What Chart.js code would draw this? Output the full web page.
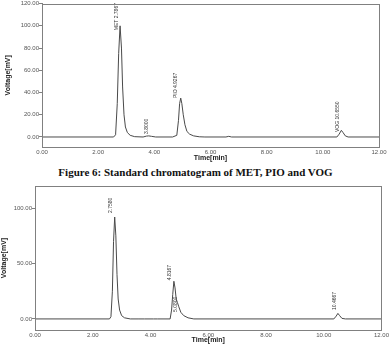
<!DOCTYPE html>
<html>
<head>
<meta charset="utf-8">
<script src="https://cdn.jsdelivr.net/npm/chart.js@4.4.1/dist/chart.umd.min.js"></script>
<style>
  html, body { margin: 0; padding: 0; background: #fff; }
  body { width: 391px; height: 347px; position: relative; overflow: hidden; }
  #c1 { position: absolute; left: 0; top: 0; }
  #c2 { position: absolute; left: 0; top: 178px; }
  #cap { position: absolute; left: 0; top: 165px; width: 391px; text-align: center;
         font: bold 11px "Liberation Serif", serif; color: #111; line-height: 14px; }
</style>
</head>
<body>
<canvas id="c1" width="391" height="165"></canvas>
<div id="cap">Figure 6: Standard chromatogram of MET, PIO and VOG</div>
<canvas id="c2" width="391" height="169"></canvas>
<script>
// ---- Data: chart 1 (standard chromatogram) ----
const time1 = [0, 2.55, 2.62, 2.68, 2.73, 2.78, 2.83, 2.87, 2.92, 2.97, 3.04, 3.14, 3.3, 3.6, 3.72, 3.8, 3.9, 4.05, 4.65, 4.8, 4.86, 4.9, 4.94, 4.98, 5.03, 5.09, 5.16, 5.26, 5.4, 5.6, 5.8, 6.55, 6.65, 6.75, 10.5, 10.58, 10.66, 10.72, 10.8, 10.9, 12];
const volt1 = [0, 0, 2, 30, 75, 100, 80, 45, 20, 9, 4, 1.5, 0.3, 0, 0.8, 1, 0.6, 0, 0, 1.5, 15, 30, 35, 30, 20, 11, 5, 2.5, 1, 0.2, 0, 0, 0.6, 0, 0, 2.5, 6, 4, 1, 0, 0];
const peakText1 = ["MET 2.7867", "3.8000", "PIO 4.9267", "VOG 10.6550"];
const peakTime1 = [2.67, 3.74, 4.77, 10.54];
const peakBase1 = [96, 2.7, 35, 4.5];
const yTicks1 = [0, 20, 40, 60, 80, 100, 120];

// ---- Data: chart 2 (sample chromatogram) ----
const time2 = [0, 2.58, 2.63, 2.68, 2.72, 2.76, 2.8, 2.84, 2.88, 2.93, 3.0, 3.1, 3.3, 3.6, 3.8, 4.1, 4.25, 4.68, 4.73, 4.77, 4.81, 4.85, 4.89, 4.93, 4.98, 5.05, 5.15, 5.3, 5.5, 10.35, 10.43, 10.49, 10.55, 10.63, 10.75, 12];
const volt2 = [0, 0, 2, 25, 70, 92, 75, 40, 18, 8, 3, 1, 0, 0, 0, 0, 0, 0, 8, 22, 34, 28, 18, 15, 11, 6, 3, 1, 0, 0, 2.5, 5, 3, 0.5, 0, 0];
const peakText2 = ["2.7580", "4.8167", "5.0800", "10.4667"];
const peakTime2 = [2.63, 4.67, 4.88, 10.36];
const peakBase2 = [95.7, 35, 6.3, 8];
const yTicks2 = [0, 50, 100];

const xTicks = [0, 2, 4, 6, 8, 10, 12];

function pts(t, v) { return t.map((x, i) => ({ x: x, y: v[i] })); }

const boxPlugin = {
  id: 'box',
  afterDraw(chart) {
    const a = chart.chartArea, ctx = chart.ctx;
    ctx.save();
    ctx.strokeStyle = '#808080';
    ctx.lineWidth = 1;
    ctx.strokeRect(Math.round(a.left) + 0.5, Math.round(a.top) + 0.5, Math.round(a.right - a.left), Math.round(a.bottom - a.top));
    ctx.restore();
  }
};

function labelPlugin(texts, times, bases) {
  return {
    id: 'peaklabels',
    afterDatasetsDraw(chart) {
      const ctx = chart.ctx, xs = chart.scales.x, ys = chart.scales.y;
      ctx.save();
      ctx.font = '5px "Liberation Sans", Arial, sans-serif';
      ctx.fillStyle = '#333';
      ctx.textAlign = 'left';
      ctx.textBaseline = 'middle';
      texts.forEach((t, i) => {
        const px = xs.getPixelForValue(times[i]);
        const py = ys.getPixelForValue(bases[i]);
        ctx.save();
        ctx.translate(px, py);
        ctx.rotate(-Math.PI / 2);
        ctx.fillText(t, 0, 0);
        ctx.restore();
      });
      ctx.restore();
    }
  };
}

function makeChart(id, t, v, yMin, yTicks, yWidth, xHeight, pad, yTitlePad, texts, times, bases) {
  return new Chart(document.getElementById(id), {
    type: 'line',
    data: { datasets: [{ data: pts(t, v), borderColor: '#4a4a4a', borderWidth: 1, pointRadius: 0, tension: 0, fill: false }] },
    options: {
      responsive: false, animation: false, devicePixelRatio: 1,
      layout: { padding: pad },
      plugins: { legend: { display: false }, tooltip: { enabled: false } },
      scales: {
        x: {
          type: 'linear', min: 0, max: 12,
          afterBuildTicks: s => { s.ticks = xTicks.map(x => ({ value: x })); },
          afterFit: s => { s.height = xHeight; },
          grid: { display: false, drawTicks: false },
          border: { display: true, color: '#808080' },
          ticks: { padding: 2, maxRotation: 0, color: '#555', font: { size: 6, family: '"Liberation Sans", Arial, sans-serif' }, callback: val => Number(val).toFixed(2) },
          title: { display: true, text: 'Time[min]', color: '#222', padding: { top: 0, bottom: 3 }, font: { size: 7, weight: 'bold', family: '"Liberation Sans", Arial, sans-serif' } }
        },
        y: {
          type: 'linear', min: yMin, max: 120,
          afterBuildTicks: s => { s.ticks = yTicks.map(x => ({ value: x })); },
          afterFit: s => { s.width = yWidth; },
          grid: { display: true, drawOnChartArea: false, drawTicks: true, tickLength: 3, color: '#808080' },
          border: { display: true, color: '#808080' },
          ticks: { padding: 0, color: '#555', font: { size: 6, family: '"Liberation Sans", Arial, sans-serif' }, callback: val => Number(val).toFixed(2) },
          title: { display: true, text: 'Voltage[mV]', color: '#222', padding: yTitlePad, font: { size: 7, weight: 'bold', family: '"Liberation Sans", Arial, sans-serif' } }
        }
      }
    },
    plugins: [boxPlugin, labelPlugin(texts, times, bases)]
  });
}

makeChart('c1', time1, volt1, -9, yTicks1, 42, 18, { top: 3, right: 12, left: 0, bottom: 0 }, { top: 4, bottom: 0 }, peakText1, peakTime1, peakBase1);
makeChart('c2', time2, volt2, -10, yTicks2, 35, 17, { top: 8, right: 4, left: 0, bottom: 0 }, { top: 0, bottom: 0 }, peakText2, peakTime2, peakBase2);
</script>
</body>
</html>
